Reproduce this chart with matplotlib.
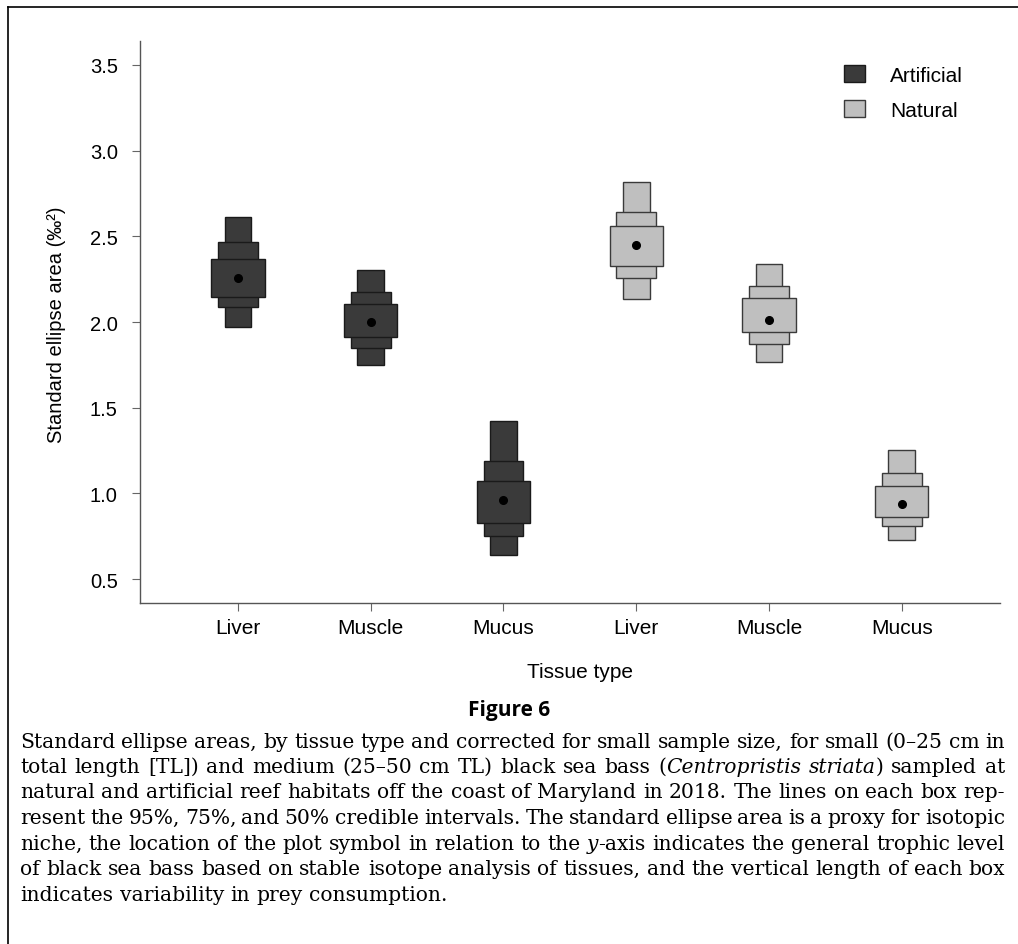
import matplotlib
matplotlib.use("Agg")
import matplotlib.pyplot as plt
from matplotlib.patches import Patch
from matplotlib.lines import Line2D

plt.rcParams['font.family'] = ['Liberation Sans', 'DejaVu Sans']

tissues = ["Liver", "Muscle", "Mucus", "Liver", "Muscle", "Mucus"]
habitat = ["Artificial", "Artificial", "Artificial", "Natural", "Natural", "Natural"]
mode = [2.26, 2.00, 0.96, 2.45, 2.01, 0.94]
lo95 = [1.97, 1.75, 0.64, 2.135, 1.77, 0.73]
hi95 = [2.615, 2.305, 1.425, 2.82, 2.34, 1.255]
lo75 = [2.09, 1.85, 0.75, 2.255, 1.875, 0.81]
hi75 = [2.465, 2.175, 1.19, 2.645, 2.21, 1.12]
lo50 = [2.145, 1.915, 0.83, 2.33, 1.945, 0.865]
hi50 = [2.37, 2.105, 1.075, 2.56, 2.14, 1.045]
yticks = [0.5, 1.0, 1.5, 2.0, 2.5, 3.0, 3.5]

fill = {"Artificial": "#3a3a3a", "Natural": "#bfbfbf"}
edge = {"Artificial": "#1a1a1a", "Natural": "#3a3a3a"}

fig = plt.figure(figsize=(10.18, 9.45), dpi=100)
ax = fig.add_axes([140 / 1018, 1 - 604 / 945, 860 / 1018, 562 / 945])

xs = list(range(1, len(tissues) + 1))
fc = [fill[h] for h in habitat]
ec = [edge[h] for h in habitat]
# widest box = 50% interval, narrowest = 95%
for lo, hi, w in [(lo95, hi95, 0.2), (lo75, hi75, 0.3), (lo50, hi50, 0.4)]:
    ax.bar(xs, [h - l for l, h in zip(lo, hi)], bottom=lo, width=w,
           color=fc, edgecolor=ec, linewidth=1.0, zorder=2)
ax.plot(xs, mode, 'o', color='black', markersize=5.5, zorder=3)

ax.set_xlim(0.262, 6.74)
ax.set_ylim(0.361, 3.64)
ax.set_xticks(xs)
ax.set_xticklabels(tissues)
ax.set_yticks(yticks)
ax.set_yticklabels([f"{v:.1f}" for v in yticks])
for s in ['top', 'right']:
    ax.spines[s].set_visible(False)
for s in ['left', 'bottom']:
    ax.spines[s].set_color('#555555')
    ax.spines[s].set_linewidth(1.0)
ax.tick_params(axis='y', length=6, color='#666666', labelsize=14.5, pad=10)
ax.tick_params(axis='x', length=6, color='#666666', labelsize=15, pad=5)

fig.text(57 / 1018, 1 - 325 / 945, "Standard ellipse area (‰²)", rotation=90,
         ha='center', va='center', fontsize=14.5)
fig.text(580 / 1018, 1 - 672 / 945, "Tissue type", ha='center', va='center', fontsize=15)

handles = [Patch(facecolor=fill[k], edgecolor=edge[k], linewidth=1.0) for k in ["Artificial", "Natural"]]
ax.legend(handles, ["Artificial", "Natural"], loc='upper left',
          bbox_to_anchor=(844 / 1018, 1 - 66 / 945), bbox_transform=fig.transFigure,
          frameon=False, fontsize=15, handlelength=1.0, handleheight=0.9,
          handletextpad=1.2, labelspacing=0.72, borderpad=0, borderaxespad=0)

# outer frame (top and left edges visible)
fig.add_artist(Line2D([8 / 1018, 1.0], [1 - 8 / 945, 1 - 8 / 945], color='black', lw=1.2,
                      transform=fig.transFigure))
fig.add_artist(Line2D([8 / 1018, 8 / 1018], [0, 1 - 8 / 945], color='black', lw=1.2,
                      transform=fig.transFigure))

fig.text(509 / 1018, 1 - 711 / 945, "Figure 6", ha='center', va='center',
         fontsize=15, fontweight='bold', family=['Open Sans', 'DejaVu Sans'])

# caption lines; words wrapped in *...* are italic
caption = [
    "Standard ellipse areas, by tissue type and corrected for small sample size, for small (0–25 cm in",
    "total length [TL]) and medium (25–50 cm TL) black sea bass (*Centropristis* *striata*) sampled at",
    "natural and artificial reef habitats off the coast of Maryland in 2018. The lines on each box rep-",
    "resent the 95%, 75%, and 50% credible intervals. The standard ellipse area is a proxy for isotopic",
    "niche, the location of the plot symbol in relation to the *y*-axis indicates the general trophic level",
    "of black sea bass based on stable isotope analysis of tissues, and the vertical length of each box",
    "indicates variability in prey consumption.",
]
baselines = [748, 773, 798, 824, 850, 875, 901]
x_left, x_right = 20, 1005
cap_size = 14.6
renderer = fig.canvas.get_renderer()

probe = fig.text(0, 0, "a a", fontsize=cap_size, family=['DejaVu Serif'])
probe2 = fig.text(0, 0, "aa", fontsize=cap_size, family=['DejaVu Serif'])
sp = probe.get_window_extent(renderer).width - probe2.get_window_extent(renderer).width
probe.remove()
probe2.remove()

for n, (line, yy) in enumerate(zip(caption, baselines)):
    words = line.split(' ')
    widths = []
    arts = []
    for w in words:
        wa = []
        total = 0
        for i, piece in enumerate(w.split('*')):
            if not piece:
                continue
            t = fig.text(0, 1 - yy / 945, piece, ha='left', va='baseline', fontsize=cap_size,
                         family=['DejaVu Serif'], style='italic' if i % 2 else 'normal')
            bw = t.get_window_extent(renderer).width
            wa.append((t, bw))
            total += bw
        arts.append(wa)
        widths.append(total)
    if n < len(caption) - 1:
        gap = (x_right - x_left - sum(widths)) / (len(words) - 1)
    else:
        gap = sp
    x = x_left
    for wa, ww in zip(arts, widths):
        xx = x
        for t, tw in wa:
            t.set_x(xx / 1018)
            xx += tw
        x += ww + gap

fig.savefig("out.png", dpi=100)
